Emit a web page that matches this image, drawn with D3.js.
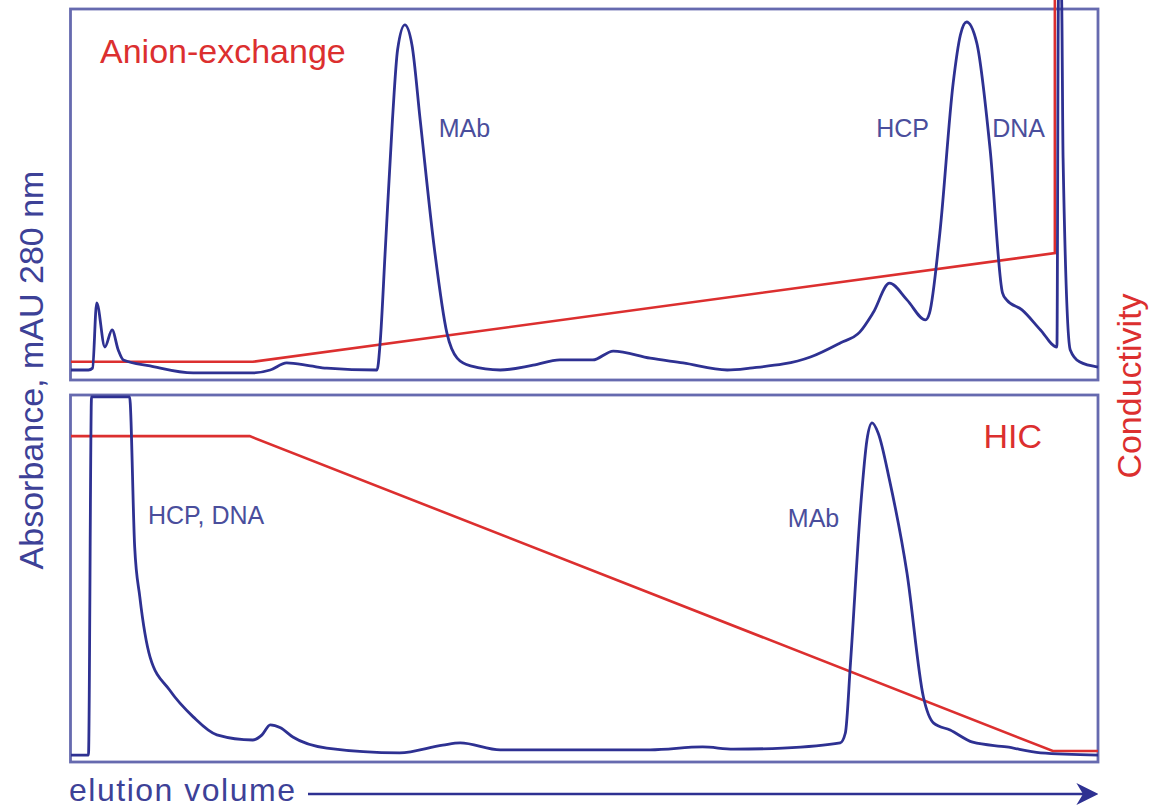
<!DOCTYPE html>
<html>
<head>
<meta charset="utf-8">
<script src="https://cdn.jsdelivr.net/npm/d3@7"></script>
<style>
  body { margin: 0; background: #fff; }
  text { font-family: "Liberation Sans", Arial, sans-serif; }
</style>
</head>
<body>
<svg id="canvas" width="1151" height="809"></svg>
<script>
// elution volume (0-100) and absorbance / conductivity (0-100, arbitrary)
const aexVolume = [0, 1.7, 2.1, 2.5, 3.3, 4.0, 4.6, 5.1, 7.7, 11.9, 17.7, 19.4, 21.0, 23.3, 24.9, 29.8,
  30.1, 30.6, 31.3, 31.8, 32.5, 33.2, 34.0, 35.4, 36.6, 37.6, 38.9, 41.8, 45.0, 47.6, 50.8, 52.8,
  56.4, 59.6, 63.9, 66.1, 72.0, 74.9, 76.8, 78.1, 79.7, 81.4, 83.2, 83.6, 84.6, 85.9, 86.6, 87.2,
  88.2, 89.5, 90.7, 91.1, 92.6, 94.4, 96.0, 96.15, 96.45, 96.6, 97.3, 98.2, 100];
const aexAbs = [2.7, 2.7, 3.2, 20.8, 8.9, 13.5, 8.1, 5.4, 3.8, 1.9, 1.9, 2.7, 4.6, 3.8, 3.2, 2.7,
  10.0, 35.0, 70.1, 89.0, 95.7, 90.3, 70.1, 35.0, 12.7, 5.9, 3.8, 2.7, 4.0, 5.4, 5.4, 7.8,
  5.9, 4.6, 2.7, 3.2, 6.2, 10.0, 12.9, 18.1, 26.1, 21.6, 16.2, 18.1, 39.6, 80.1, 93.0, 96.5,
  90.8, 62.0, 23.5, 21.6, 18.9, 13.5, 8.9, 103, 103, 59.8, 8.1, 4.9, 3.5];
const aexCondVolume = [0, 17.7, 95.8, 95.8];
const aexCond = [4.9, 4.9, 34.2, 103];

const hicVolume = [0, 1.7, 2.0, 5.7, 6.2, 6.7, 7.7, 9.6, 11.9, 14.2, 17.7, 18.6, 19.4, 20.4, 21.6,
  24.9, 32.0, 36.2, 37.9, 41.8, 49.9, 56.4, 61.5, 64.5, 69.3, 74.9, 75.4, 75.9, 76.9, 77.5, 78.0,
  78.6, 79.7, 81.4, 83.0, 84.0, 85.6, 87.8, 91.1, 94.4, 100];
const hicAbs = [1.9, 1.9, 99.5, 99.5, 58.6, 45.0, 28.6, 19.6, 12.3, 7.4, 6.0, 7.4, 10.1, 9.3, 6.8,
  3.8, 2.5, 4.6, 5.2, 3.3, 3.3, 3.3, 4.1, 3.5, 3.8, 5.2, 7.9, 27.0, 70.0, 87.7, 92.4,
  89.6, 76.8, 51.5, 17.7, 10.6, 8.7, 5.4, 4.1, 2.5, 1.9];
const hicCondVolume = [0, 17.4, 95.6, 100];
const hicCond = [88.8, 88.8, 3.0, 3.0];

const peakLabels = [
  { panel: "aex", text: "MAb", v: 35.8, a: 65.5 },
  { panel: "aex", text: "HCP", v: 78.4, a: 65.5 },
  { panel: "aex", text: "DNA", v: 89.7, a: 65.5 },
  { panel: "hic", text: "HCP, DNA", v: 7.5, a: 64.8 },
  { panel: "hic", text: "MAb", v: 69.8, a: 64.0 }
];

const blue = "#2e3192";
const red = "#dc2f2f";
const labelBlue = "#4a4e9c";

const svg = d3.select("svg#canvas");

const x = d3.scaleLinear().domain([0, 100]).range([71, 1098]);

const panels = [
  { key: "aex", top: 9, bottom: 380, title: "Anion-exchange", tx: 100, ty: 63, anchor: "start",
    vol: aexVolume, abs: aexAbs, cv: aexCondVolume, cond: aexCond },
  { key: "hic", top: 395, bottom: 762, title: "HIC", tx: 1042, ty: 448, anchor: "end",
    vol: hicVolume, abs: hicAbs, cv: hicCondVolume, cond: hicCond }
];

panels.forEach(p => {
  const y = d3.scaleLinear().domain([0, 100]).range([p.bottom, p.top]);
  const g = svg.append("g");

  g.append("rect")
    .attr("x", x(0) - 0.5)
    .attr("y", p.top)
    .attr("width", x(100) - x(0) + 0.5)
    .attr("height", p.bottom - p.top)
    .attr("fill", "none")
    .attr("stroke", "#666aaf")
    .attr("stroke-width", 2.8);

  const condLine = d3.line()
      .x((d, i) => x(p.cv[i]))
      .y(d => y(d));

  g.append("path")
    .attr("d", condLine(p.cond))
    .attr("fill", "none")
    .attr("stroke", red)
    .attr("stroke-width", 2.6);

  const absLine = d3.line()
      .x((d, i) => x(p.vol[i]))
      .y(d => y(d))
      .curve(d3.curveMonotoneX);

  g.append("path")
    .attr("d", absLine(p.abs))
    .attr("fill", "none")
    .attr("stroke", blue)
    .attr("stroke-width", 2.8)
    .attr("stroke-linejoin", "round");

  g.append("text")
    .text(p.title)
    .attr("x", p.tx)
    .attr("y", p.ty)
    .attr("text-anchor", p.anchor)
    .attr("fill", red)
    .attr("font-size", 34);

  g.selectAll("text.peak")
    .data(peakLabels.filter(d => d.panel === p.key))
    .join("text")
      .attr("class", "peak")
      .text(d => d.text)
      .attr("x", d => x(d.v))
      .attr("y", d => y(d.a))
      .attr("fill", labelBlue)
      .attr("font-size", 25);
});

// axis titles
svg.append("text")
  .text("Absorbance, mAU 280 nm")
  .attr("transform", "translate(43, 370) rotate(-90)")
  .attr("text-anchor", "middle")
  .attr("fill", "#3d4197")
  .attr("font-size", 34);

svg.append("text")
  .text("Conductivity")
  .attr("transform", "translate(1141, 386) rotate(-90)")
  .attr("text-anchor", "middle")
  .attr("fill", red)
  .attr("font-size", 34);

svg.append("text")
  .text("elution volume")
  .attr("x", 69)
  .attr("y", 801)
  .attr("fill", "#3d4197")
  .attr("font-size", 32)
  .attr("textLength", 226);

svg.append("defs").append("marker")
    .attr("id", "arrow")
    .attr("viewBox", "0 0 10 10")
    .attr("refX", 8)
    .attr("refY", 5)
    .attr("markerWidth", 22)
    .attr("markerHeight", 22)
    .attr("markerUnits", "userSpaceOnUse")
  .append("path")
    .attr("d", "M0,0 L10,5 L0,10 L3,5 Z")
    .attr("fill", blue);

svg.append("line")
  .attr("x1", 308)
  .attr("x2", 1094)
  .attr("y1", 794)
  .attr("y2", 794)
  .attr("stroke", blue)
  .attr("stroke-width", 2.4)
  .attr("marker-end", "url(#arrow)");
</script>
</body>
</html>
